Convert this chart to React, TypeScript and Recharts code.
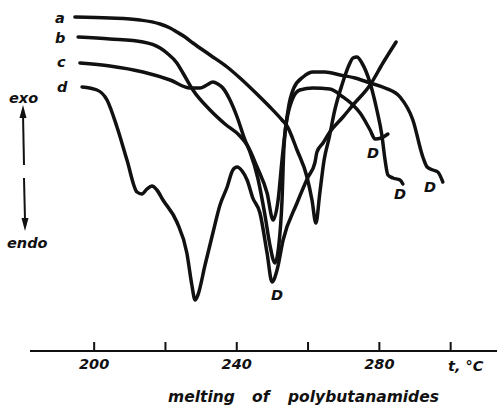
import { LineChart, Line, XAxis, YAxis } from 'recharts';

// temperature, degC
const aTemp = [194.6, 204.4, 212.8, 218.5, 221.3, 223.2, 225.5, 227.7, 232.5, 237.3, 240.9, 246.5, 249.3, 252.7, 254.1, 256.9, 259.7, 261.1, 262.2, 263.3, 264.5, 265.9, 267.5, 269.5, 271.5, 272.6, 273.7, 275.1, 277.4, 279.3, 280.7, 281.6, 282.4, 283.8, 285.8, 286.6];
// DTA signal, arbitrary units (up = exo)
const aSig = [33.4, 33.3, 33.1, 32.7, 32.3, 31.9, 31.4, 30.8, 29.6, 28.4, 27.3, 25.4, 24.4, 23.1, 22.5, 20.1, 17.4, 15.1, 12.8, 15.8, 19.1, 21.3, 24.1, 26.6, 28.6, 29.3, 29.4, 28.8, 26.8, 24.1, 21.6, 19.1, 17.6, 17.3, 17.1, 16.7];

const bTemp = [195.5, 204.4, 213.7, 218.5, 220.4, 223.2, 224.9, 227.7, 232.5, 236.7, 240.9, 242.9, 245.7, 248.5, 250.2, 251.6, 252.7, 253.8, 255.5, 257.7, 261.4, 266.1, 269.8, 272.3, 274.6, 277.4, 278.8, 280.5, 282.4];
const bSig = [31.4, 31.2, 30.9, 30.3, 29.8, 28.8, 27.8, 26.1, 24.1, 22.7, 21.5, 20.6, 18.4, 15.8, 13.1, 15.1, 19.1, 22.6, 25.1, 26.1, 26.3, 26.2, 25.4, 24.7, 23.8, 22.1, 21.2, 21.3, 21.7];

const cTemp = [196.0, 204.4, 213.7, 221.3, 226.9, 229.7, 231.6, 233.3, 234.7, 236.1, 238.1, 240.1, 242.3, 243.7, 245.9, 247.9, 249.3, 250.7, 251.8, 252.7, 253.2, 254.4, 256.0, 258.6, 261.4, 264.7, 269.0, 273.2, 277.4, 281.6, 285.8, 289.4, 292.2, 293.4, 295.0, 296.4, 297.8];
const cSig = [28.8, 28.5, 27.9, 27.1, 26.3, 26.3, 26.6, 26.9, 26.7, 26.3, 25.1, 23.4, 21.1, 19.9, 17.3, 13.6, 10.6, 8.8, 10.6, 15.1, 20.1, 24.1, 26.3, 27.4, 27.9, 27.9, 27.6, 27.3, 26.8, 26.3, 25.4, 23.1, 19.4, 18.4, 18.1, 17.9, 16.9];

const dTemp = [196.6, 200.8, 203.6, 206.4, 209.2, 212.0, 213.4, 214.8, 216.2, 217.6, 219.3, 223.2, 226.0, 227.4, 228.3, 229.1, 231.1, 233.3, 235.3, 237.3, 238.9, 240.1, 241.5, 242.9, 244.5, 246.5, 248.5, 249.9, 251.3, 253.0, 256.9, 260.0, 261.9, 262.5, 264.2, 266.1, 269.8, 272.6, 277.4, 281.0, 284.7];
const dSig = [26.4, 26.1, 25.1, 22.4, 19.1, 15.9, 15.7, 16.2, 16.5, 16.1, 15.1, 12.9, 9.8, 6.6, 5.1, 5.6, 8.6, 11.8, 14.6, 16.4, 18.1, 18.4, 18.0, 17.1, 15.3, 13.8, 9.8, 6.9, 8.1, 11.1, 14.8, 17.4, 18.8, 19.9, 20.8, 21.9, 23.4, 24.6, 26.6, 28.8, 30.9];

const tempTicks = [200, 220, 240, 260, 280, 300];
const tempLabels = [200, 240, 280];

const toRows = (t: number[], s: number[]) => t.map((v, i) => ({ t: v, s: s[i] }));
const curves = [
    { key: 'a', data: toRows(aTemp, aSig) },
    { key: 'b', data: toRows(bTemp, bSig) },
    { key: 'c', data: toRows(cTemp, cSig) },
    { key: 'd', data: toRows(dTemp, dSig) },
];

const font = '"DejaVu Sans", sans-serif';
const txt = { fontFamily: font, fontWeight: 700, fontStyle: 'italic', fontSize: 14.5, fill: '#111' } as const;

function Tick(props: any) {
    const { x, y, payload } = props;
    return (
        <g>
            <line x1={x} y1={y - 9} x2={x} y2={y} stroke="#111" strokeWidth={2} />
            {tempLabels.includes(payload.value) && (
                <text x={x} y={y + 18} textAnchor="middle" {...txt}>{payload.value}</text>
            )}
        </g>
    );
}

export default function App() {
    return (
        <div style={{ position: 'absolute', left: 0, top: 0, width: 497, height: 410, background: '#fff' }}>
            <LineChart width={497} height={410} margin={{ top: 0, right: 0, bottom: 29, left: 30 }}>
                <XAxis type="number" dataKey="t" domain={[182, 313]} ticks={tempTicks} allowDataOverflow
                    axisLine={{ stroke: '#111', strokeWidth: 2 }} tickLine={false} tickSize={0} tickMargin={0}
                    height={30} tick={<Tick />} />
                <YAxis type="number" dataKey="s" domain={[0, 35.1]} hide />
                {curves.map(c => (
                    <Line key={c.key} data={c.data} dataKey="s" type="monotone" stroke="#111" strokeWidth={3.5}
                        strokeLinejoin="round" strokeLinecap="round" dot={false} isAnimationActive={false} />
                ))}
            </LineChart>
            <svg width={497} height={410} style={{ position: 'absolute', left: 0, top: 0, pointerEvents: 'none' }}>
                <text x={55} y={23} {...txt}>a</text>
                <text x={55} y={43} {...txt}>b</text>
                <text x={57} y={67} {...txt}>c</text>
                <text x={57} y={92} {...txt}>d</text>
                <text x={9} y={103} {...txt}>exo</text>
                <text x={7} y={248} {...txt}>endo</text>
                <line x1={23} y1={114} x2={24} y2={165} stroke="#111" strokeWidth={2} />
                <path d="M23,105 L19.5,118 L26.5,118 Z" fill="#111" />
                <line x1={24} y1={178} x2={25} y2={220} stroke="#111" strokeWidth={2} />
                <path d="M25,231 L21.5,218 L28.5,218 Z" fill="#111" />
                <text x={373} y={158} textAnchor="middle" {...txt}>D</text>
                <text x={400} y={199} textAnchor="middle" {...txt}>D</text>
                <text x={430} y={192} textAnchor="middle" {...txt}>D</text>
                <text x={277} y={300} textAnchor="middle" {...txt}>D</text>
                <text x={448} y={371} {...txt}>t, °C</text>
                <text x={168} y={402} {...txt} fontSize={15.5}>melting</text>
                <text x={252} y={402} {...txt} fontSize={15.5}>of</text>
                <text x={288} y={402} {...txt} fontSize={15.5}>polybutanamides</text>
            </svg>
        </div>
    );
}
